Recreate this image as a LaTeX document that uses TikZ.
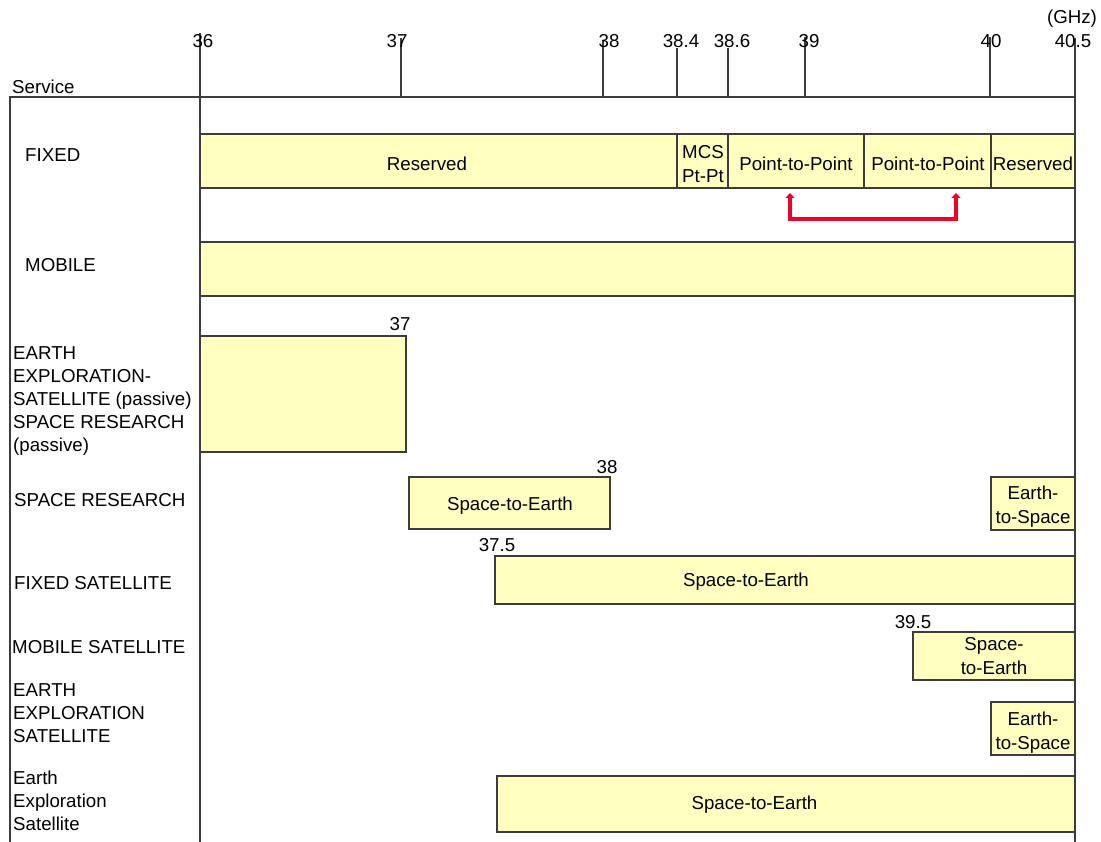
\documentclass[tikz,border=0pt]{standalone}
\usepackage{fontspec}
\setmainfont{Liberation Sans}
\usetikzlibrary{arrows.meta}
\definecolor{bandfill}{RGB}{255,255,192}
\definecolor{bandline}{RGB}{60,60,60}
\definecolor{arrowred}{RGB}{240,0,40}
\newcommand\bandbox[5]{\node[band, minimum width={(#4-#2)*1pt}, minimum height={(#5-#3)*1pt}] (#1) at (#2,#3) {};}
\begin{document}
\begin{tikzpicture}[x=1pt,y=-1pt,
  font=\fontsize{18.7}{23}\selectfont,
  band/.style={draw=bandline, line width=1.2pt, fill=bandfill, inner sep=0pt, outer sep=0pt, anchor=north west},
  bandtext/.style={inner sep=0pt, align=center, anchor=center, font=\fontsize{18.7}{24}\selectfont},
  axisline/.style={draw=bandline, line width=1.3pt},
  ticklabel/.style={inner sep=0pt, anchor=center},
  svc/.style={anchor=west, align=left, inner sep=0pt},
  redarrow/.style={draw=arrowred, line width=4pt, {Triangle[length=5pt,width=9pt]}-{Triangle[length=5pt,width=9pt]}}]
\useasboundingbox (0,0) rectangle (1101,842);
% axis frame
\draw[axisline] (10,842) -- (10,97) -- (1075,97);
\draw[axisline] (200,33) -- (200,842);
\draw[axisline] (1075,38) -- (1075,842);
\foreach \x/\t in {401/38, 603/40, 677/48, 728/48, 805/37, 990/37}
  \draw[axisline] (\x,\t) -- (\x,97);
% tick labels
\node[ticklabel] (t36) at (203,41) {36};
\node[ticklabel] (t37) at (397,41) {37};
\node[ticklabel] (t38) at (609,41) {38};
\node[ticklabel] (t384) at (681,41) {38.4};
\node[ticklabel] (t386) at (732,41) {38.6};
\node[ticklabel] (t39) at (809,41) {39};
\node[ticklabel] (t40) at (991,41) {40};
\node[ticklabel] (t405) at (1073,41) {40.5};
\node[ticklabel] (ghz) at (1072,19) {(GHz)};
% service labels
\node[svc] (lserv) at (12,87) {Service};
\node[svc] (lfix) at (25,155) {FIXED};
\node[svc] (lmob) at (25,265) {MOBILE};
\node[svc] (leess) at (13,401) {EARTH\\EXPLORATION-\\SATELLITE (passive)\\SPACE RESEARCH\\(passive)};
\node[svc] (lsr) at (14,500) {SPACE RESEARCH};
\node[svc] (lfss) at (14,583) {FIXED SATELLITE};
\node[svc] (lmss) at (12,647) {MOBILE SATELLITE};
\node[svc] (lees) at (13,713) {EARTH\\EXPLORATION\\SATELLITE};
\node[svc] (lees2) at (13,801) {Earth\\Exploration\\Satellite};
% bands
\bandbox{fix1}{200}{134}{677}{188}
\bandbox{fix2}{677}{134}{728}{188}
\bandbox{fix3}{728}{134}{864}{188}
\bandbox{fix4}{864}{134}{991}{188}
\bandbox{fix5}{991}{134}{1075}{188}
\bandbox{mob}{200}{242}{1075}{296}
\bandbox{eess}{200}{336}{406}{452}
\bandbox{sr1}{409}{477}{610}{529}
\bandbox{sr2}{991}{477}{1075}{530}
\bandbox{fss}{495}{556}{1075}{604}
\bandbox{mss}{913}{632}{1075}{680}
\bandbox{ees}{991}{702}{1075}{755}
\bandbox{ees2}{497}{776}{1075}{832}
% band texts
\node[bandtext] (fix1t) at (427,164) {Reserved};
\node[bandtext] (fix2t) at (703,164) {MCS\\Pt-Pt};
\node[bandtext] (fix3t) at (796,164) {Point-to-Point};
\node[bandtext] (fix4t) at (928,164) {Point-to-Point};
\node[bandtext] (fix5t) at (1033,164) {Reserved};
\node[bandtext] (sr1t) at (510,506) {Space-to-Earth};
\node[bandtext] (sr2t) at (1033,507) {Earth-\\to-Space};
\node[bandtext] (fsst) at (746,582) {Space-to-Earth};
\node[bandtext] (msst) at (994,656) {Space-\\to-Earth};
\node[bandtext] (eest) at (1033,732.5) {Earth-\\to-Space};
\node[bandtext] (ees2t) at (754.5,805) {Space-to-Earth};
% band edge values
\node[ticklabel] (v37) at (400,324) {37};
\node[ticklabel] (v38) at (607,467) {38};
\node[ticklabel] (v375) at (497,545) {37.5};
\node[ticklabel] (v395) at (913,622) {39.5};
% red arrow
\coordinate (ra) at (790,193);
\coordinate (rb) at (956,193);
\draw[redarrow] (ra) -- ++(0,26) -| (rb);
\end{tikzpicture}
\end{document}
